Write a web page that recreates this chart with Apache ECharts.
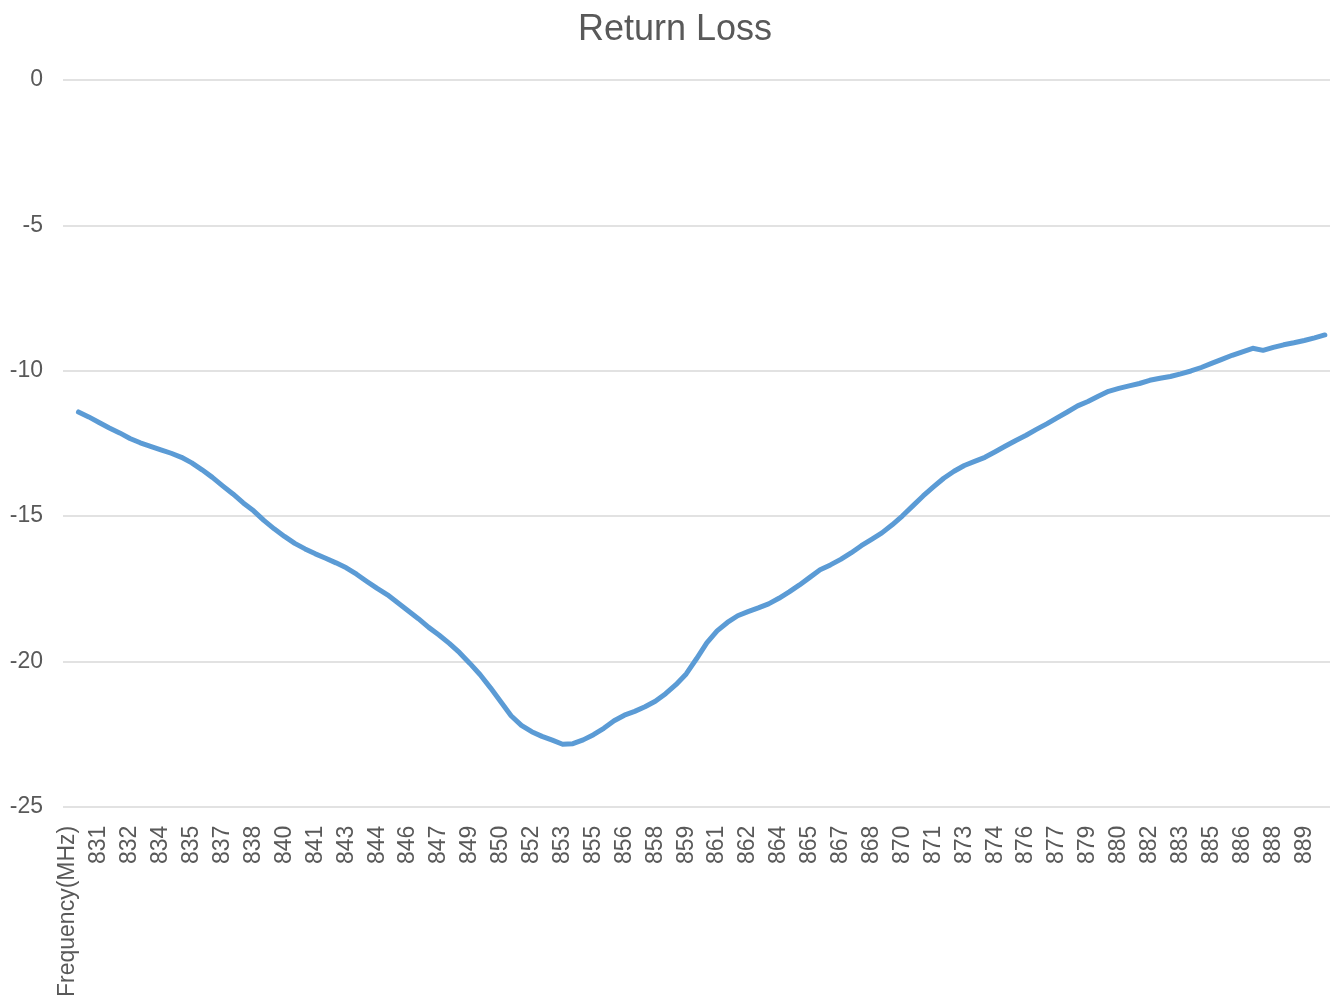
<!DOCTYPE html>
<html>
<head>
<meta charset="utf-8">
<title>Return Loss</title>
<script src="https://cdn.jsdelivr.net/npm/echarts@6/dist/echarts.min.js"></script>
<style>
  html, body { margin: 0; padding: 0; background: #ffffff; }
  #chart { width: 1331px; height: 1000px; }
</style>
</head>
<body>
<div id="chart"></div>
<script>
// Header cell of the frequency column, shown as the first category
const headerLabel = 'Frequency(MHz)';

// Measured frequencies (MHz)
const frequencies = [
  829.5, 830, 830.5, 831, 831.5, 832, 832.5, 833, 833.5, 834,
  834.5, 835, 835.5, 836, 836.5, 837, 837.5, 838, 838.5, 839,
  839.5, 840, 840.5, 841, 841.5, 842, 842.5, 843, 843.5, 844,
  844.5, 845, 845.5, 846, 846.5, 847, 847.5, 848, 848.5, 849,
  849.5, 850, 850.5, 851, 851.5, 852, 852.5, 853, 853.5, 854,
  854.5, 855, 855.5, 856, 856.5, 857, 857.5, 858, 858.5, 859,
  859.5, 860, 860.5, 861, 861.5, 862, 862.5, 863, 863.5, 864,
  864.5, 865, 865.5, 866, 866.5, 867, 867.5, 868, 868.5, 869,
  869.5, 870, 870.5, 871, 871.5, 872, 872.5, 873, 873.5, 874,
  874.5, 875, 875.5, 876, 876.5, 877, 877.5, 878, 878.5, 879,
  879.5, 880, 880.5, 881, 881.5, 882, 882.5, 883, 883.5, 884,
  884.5, 885, 885.5, 886, 886.5, 887, 887.5, 888, 888.5, 889,
  889.5, 890
];

// Return loss (dB) at each frequency
const returnLoss = [
  -11.42, -11.59, -11.78, -11.97, -12.14, -12.33, -12.48, -12.60, -12.72, -12.84,
  -12.98, -13.17, -13.41, -13.67, -13.96, -14.24, -14.55, -14.82, -15.15, -15.44,
  -15.70, -15.94, -16.13, -16.30, -16.45, -16.61, -16.78, -17.00, -17.25, -17.49,
  -17.71, -17.98, -18.26, -18.53, -18.83, -19.09, -19.38, -19.70, -20.07, -20.46,
  -20.91, -21.39, -21.87, -22.20, -22.42, -22.58, -22.71, -22.85, -22.83, -22.70,
  -22.52, -22.30, -22.04, -21.85, -21.72, -21.56, -21.37, -21.11, -20.80, -20.43,
  -19.91, -19.36, -18.95, -18.66, -18.43, -18.29, -18.16, -18.02, -17.83, -17.61,
  -17.37, -17.11, -16.85, -16.68, -16.49, -16.27, -16.02, -15.80, -15.58, -15.30,
  -14.99, -14.65, -14.31, -14.00, -13.70, -13.46, -13.26, -13.12, -12.98, -12.79,
  -12.59, -12.40, -12.22, -12.02, -11.83, -11.62, -11.42, -11.21, -11.06, -10.88,
  -10.71, -10.61, -10.52, -10.44, -10.33, -10.26, -10.20, -10.11, -10.01, -9.89,
  -9.75, -9.61, -9.47, -9.35, -9.23, -9.30, -9.20, -9.11, -9.04, -8.96,
  -8.87, -8.77
];

// Value axis range (dB)
const yMin = -25;
const yMax = 0;
const yStep = 5;

const categories = [headerLabel].concat(frequencies.map(String));
const seriesData = [null].concat(returnLoss);

const FONT = "'Liberation Sans', Arial, sans-serif";
const TEXT_COLOR = '#595959';

const chart = echarts.init(document.getElementById('chart'), null, { renderer: 'canvas' });

chart.setOption({
  animation: false,
  backgroundColor: '#ffffff',
  title: {
    text: 'Return Loss',
    left: 670,
    top: 7,
    textAlign: 'center',
    textStyle: {
      fontFamily: FONT,
      fontSize: 36,
      fontWeight: 'normal',
      color: TEXT_COLOR
    }
  },
  grid: {
    left: 63,
    right: 1,
    top: 80,
    bottom: 193,
    containLabel: false
  },
  xAxis: {
    type: 'category',
    data: categories,
    boundaryGap: true,
    axisLine: { show: false },
    axisTick: { show: false },
    splitLine: { show: false },
    axisLabel: {
      interval: 2,
      rotate: 90,
      margin: 19,
      hideOverlap: false,
      fontFamily: FONT,
      fontSize: 23,
      color: TEXT_COLOR,
      formatter: function (v) {
        const n = Number(v);
        return isNaN(n) ? v : String(Math.round(n));
      }
    }
  },
  yAxis: {
    type: 'value',
    min: yMin,
    max: yMax,
    interval: yStep,
    axisLine: { show: false },
    axisTick: { show: false },
    splitLine: { show: true, lineStyle: { color: '#D9D9D9', width: 1.5 } },
    axisLabel: {
      margin: 20,
      fontFamily: FONT,
      fontSize: 23,
      color: TEXT_COLOR
    }
  },
  series: [{
    name: 'Return Loss',
    type: 'line',
    data: seriesData,
    smooth: false,
    showSymbol: false,
    symbol: 'none',
    connectNulls: false,
    lineStyle: {
      color: '#5B9BD5',
      width: 5,
      cap: 'round',
      join: 'round'
    }
  }]
});
</script>
</body>
</html>
